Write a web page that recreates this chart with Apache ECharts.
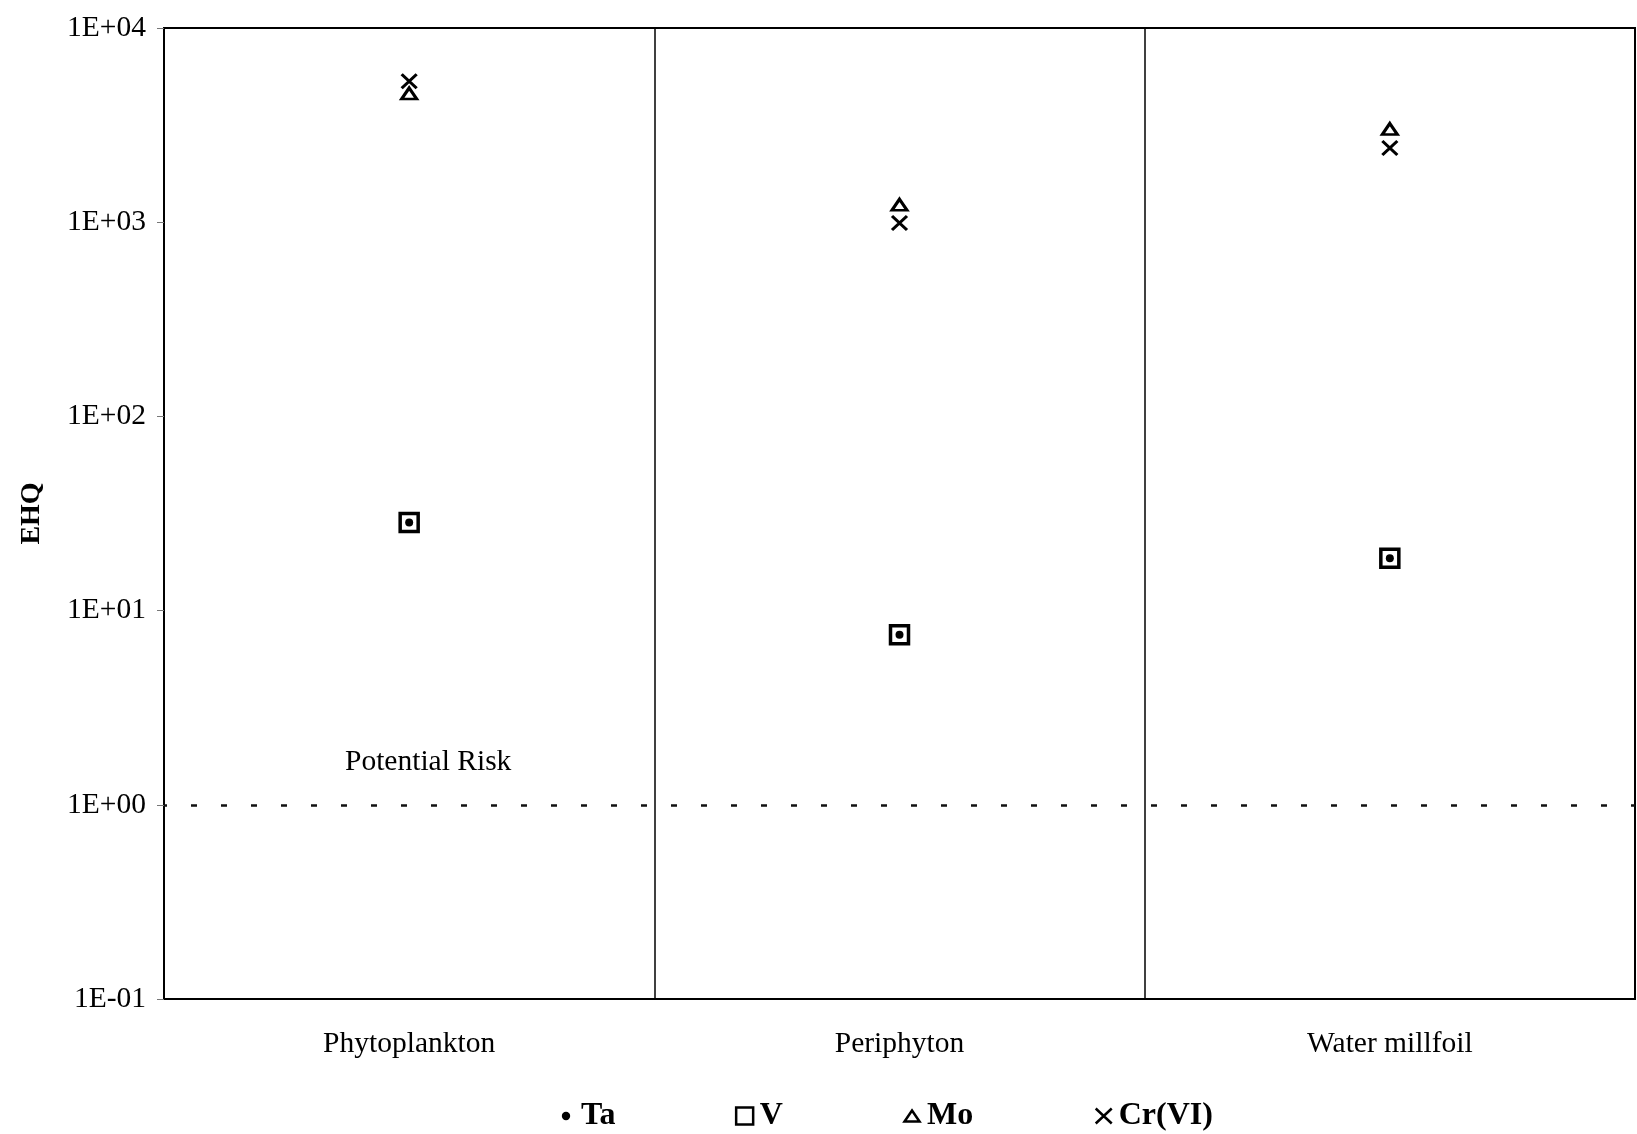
<!DOCTYPE html>
<html>
<head>
<meta charset="utf-8">
<script src="https://cdn.jsdelivr.net/npm/echarts@6/dist/echarts.min.js"></script>
<style>
html,body{margin:0;padding:0;background:#fff;}
#chart{width:1637px;height:1134px;}
</style>
</head>
<body>
<div id="chart"></div>
<script>
const categories = ['Phytoplankton', 'Periphyton', 'Water millfoil'];
const taValues = [28.4, 7.5, 18.6];
const vValues = [28.4, 7.5, 18.6];
const moValues = [4600, 1230, 3020];
const crValues = [5320, 990, 2410];
const yTickValues = [0.1, 1, 10, 100, 1000, 10000];
const yTickLabels = ['1E-01', '1E+00', '1E+01', '1E+02', '1E+03', '1E+04'];
const riskLevel = 1;
const riskLabel = 'Potential Risk';

const FONT = 'Liberation Serif';
const chart = echarts.init(document.getElementById('chart'));

function tickLabel(v) {
  for (let i = 0; i < yTickValues.length; i++) {
    if (Math.abs(Math.log10(v) - Math.log10(yTickValues[i])) < 1e-6) return yTickLabels[i];
  }
  return '';
}

const option = {
  animation: false,
  backgroundColor: '#fff',
  grid: {
    left: 164, right: 2, top: 28, bottom: 135,
    show: true, borderColor: '#000', borderWidth: 2, backgroundColor: 'transparent'
  },
  legend: {
    left: 551, top: 1095,
    itemWidth: 20, itemHeight: 20, itemGap: 118,
    textStyle: { fontFamily: FONT, fontWeight: 'bold', fontSize: 32, color: '#000' },
    data: [
      { name: 'Ta', icon: 'path://M0,0M20,20M14.2,10A4.2,4.2,0,1,1,5.8,10A4.2,4.2,0,1,1,14.2,10Z',
        itemStyle: { color: '#000', borderWidth: 0 } },
      { name: 'V', icon: 'path://M0,0M20,20M1.5,1.5L18.5,1.5L18.5,18.5L1.5,18.5Z',
        itemStyle: { color: '#fff', borderColor: '#000', borderWidth: 2.5 } },
      { name: 'Mo', icon: 'path://M0,0M20,20M10,4.5L17.5,15.5L2.5,15.5Z',
        itemStyle: { color: '#fff', borderColor: '#000', borderWidth: 2.5 } },
      { name: 'Cr(VI)', icon: 'path://M0,0M20,20M2,2.5L18,17.5M18,2.5L2,17.5',
        itemStyle: { color: 'none', borderColor: '#000', borderWidth: 2.5 } }
    ]
  },
  xAxis: {
    type: 'category',
    data: categories,
    boundaryGap: true,
    axisLine: { show: true, lineStyle: { color: '#000', width: 2 } },
    axisTick: { show: false },
    axisLabel: { fontFamily: FONT, fontSize: 29.5, color: '#000', margin: 30 },
    splitLine: { show: true, lineStyle: { color: '#000', width: 1.5 } }
  },
  yAxis: {
    type: 'log',
    logBase: 10,
    min: 0.1,
    max: 10000,
    name: 'EHQ',
    nameLocation: 'middle',
    nameGap: 118,
    nameTextStyle: { fontFamily: FONT, fontWeight: 'bold', fontSize: 28, color: '#000' },
    axisLine: { show: true, lineStyle: { color: '#000', width: 2 } },
    axisTick: { show: true, length: 7, lineStyle: { color: '#777', width: 1 } },
    axisLabel: { fontFamily: FONT, fontSize: 29.5, color: '#000', margin: 18,
                 padding: [6, 0, 0, 0], formatter: tickLabel },
    splitLine: { show: false },
    minorTick: { show: false }
  },
  series: [
    {
      name: 'V', type: 'scatter', data: vValues, z: 2,
      symbol: 'rect', symbolSize: 18,
      itemStyle: { color: '#fff', borderColor: '#000', borderWidth: 3.5, opacity: 1 }
    },
    {
      name: 'Ta', type: 'scatter', data: taValues, z: 3,
      symbol: 'circle', symbolSize: 8,
      itemStyle: { color: '#000', opacity: 1 },
      markLine: {
        silent: true,
        symbol: ['none', 'none'],
        lineStyle: { color: '#111', width: 2.5, type: [6, 24], dashOffset: 3 },
        label: {
          show: true, position: 'insideStartTop', formatter: riskLabel,
          distance: [181, 28],
          fontFamily: FONT, fontSize: 29.5, color: '#000'
        },
        data: [{ yAxis: riskLevel }]
      }
    },
    {
      name: 'Mo', type: 'scatter', data: moValues, z: 2,
      symbol: 'triangle', symbolSize: [15, 11],
      itemStyle: { color: '#fff', borderColor: '#000', borderWidth: 3, opacity: 1 }
    },
    {
      name: 'Cr(VI)', type: 'scatter', data: crValues, z: 4,
      symbol: 'path://M0,0L10,10M10,0L0,10', symbolSize: [15, 14],
      itemStyle: { color: 'none', borderColor: '#000', borderWidth: 3, opacity: 1 }
    }
  ]
};
chart.setOption(option);
</script>
</body>
</html>
